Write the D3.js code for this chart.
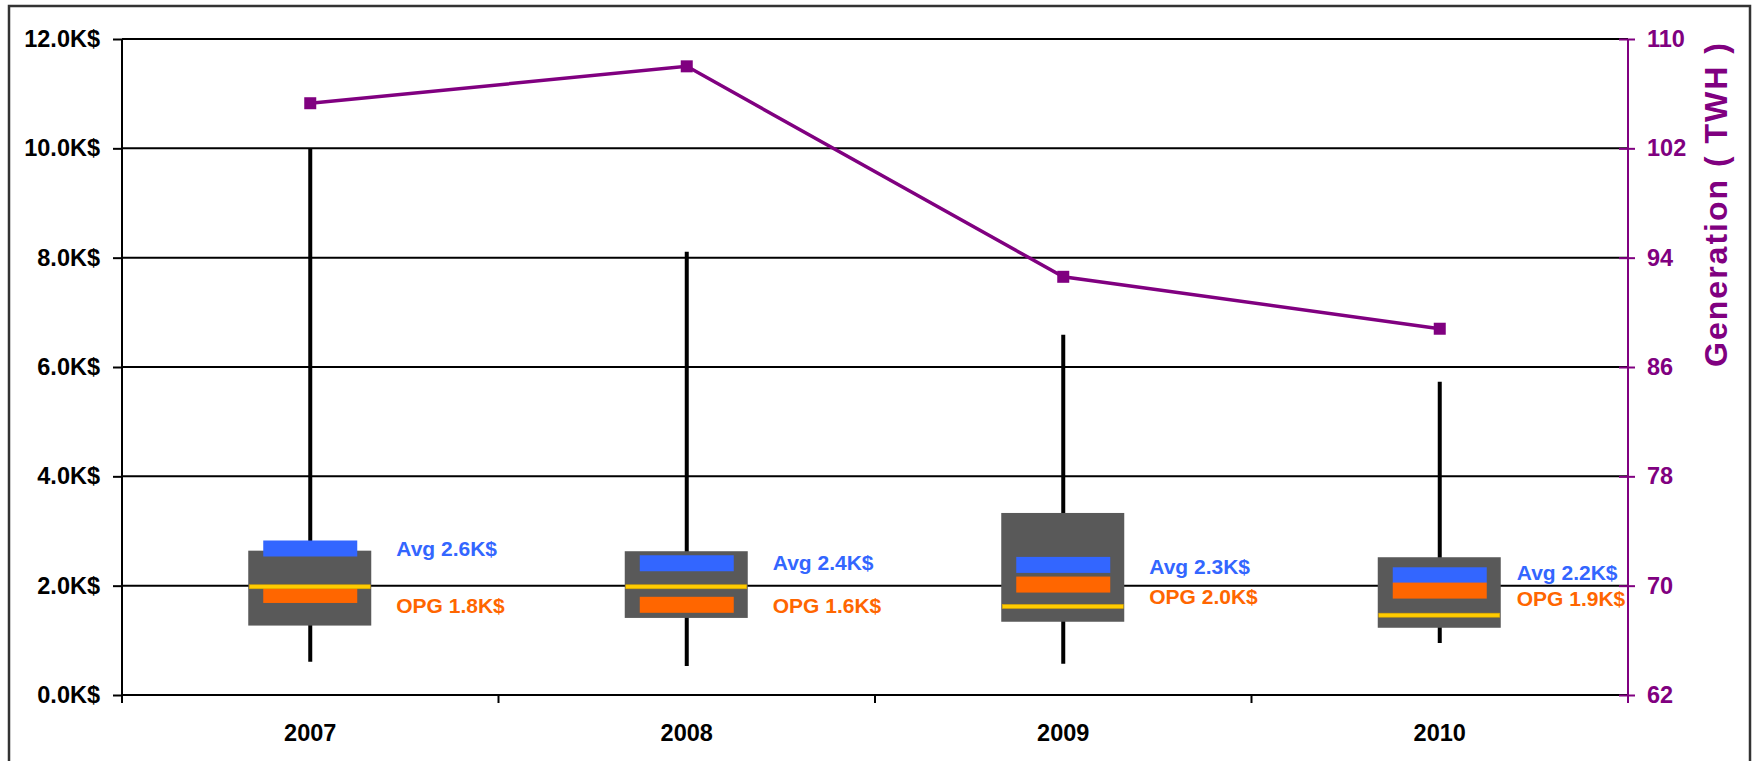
<html>
  <head>
    <meta charset="utf-8"/>
    <style>
      body {
        margin: 0;
        background: white;
      }
      text {
        font-family: "Liberation Sans", Arial, sans-serif;
        font-weight: bold;
      }
    </style>
    <script src="https://d3js.org/d3.v7.min.js"></script>
  </head>
  <body>
    <script>
    // categories and series
    var years = ["2007", "2008", "2009", "2010"];
    var whiskerHigh = [10.0, 8.11, 6.59, 5.73];
    var whiskerLow = [0.61, 0.53, 0.57, 0.95];
    var boxHigh = [2.64, 2.63, 3.33, 2.52];
    var boxLow = [1.27, 1.41, 1.34, 1.23];
    var median = [1.98, 1.98, 1.62, 1.46];
    var avgMark = [2.68, 2.41, 2.38, 2.19];
    var opgMark = [1.83, 1.65, 2.02, 1.91];
    var avgLabel = ["Avg 2.6K$", "Avg 2.4K$", "Avg 2.3K$", "Avg 2.2K$"];
    var opgLabel = ["OPG 1.8K$", "OPG 1.6K$", "OPG 2.0K$", "OPG 1.9K$"];
    var avgLabelAt = [2.68, 2.42, 2.34, 2.23];
    var opgLabelAt = [1.63, 1.63, 1.79, 1.76];
    var generation = [105.3, 108.0, 92.6, 88.8];
    var leftTicks = [0, 2, 4, 6, 8, 10, 12];
    var rightTicks = [62, 70, 78, 86, 94, 102, 110];

    var width = 1754, height = 761;
    var pLeft = 122, pRight = 1628, pTop = 39, pBottom = 695;
    var purple = "#800080";
    var font = "Liberation Sans, Arial, sans-serif";

    var svg = d3.select("body").append("svg")
                .attr("width", width).attr("height", height);

    // frame
    svg.append("rect")
       .attr("x", 9).attr("y", 6)
       .attr("width", 1741).attr("height", 770)
       .attr("fill", "none").attr("stroke", "#333").attr("stroke-width", 2.5);

    var x = d3.scaleBand().domain(years).range([pLeft, pRight]);
    var y = d3.scaleLinear().domain([0, 12]).range([pBottom, pTop]);
    var y2 = d3.scaleLinear().domain([62, 110]).range([pBottom, pTop]);

    // grid
    svg.append("g").selectAll("line")
       .data(leftTicks.slice(1))
       .enter().append("line")
       .attr("x1", pLeft).attr("x2", pRight)
       .attr("y1", d => y(d)).attr("y2", d => y(d))
       .attr("stroke", "black").attr("stroke-width", 2);

    // left axis
    var gl = svg.append("g").attr("transform", "translate(" + pLeft + ",0)")
       .call(d3.axisLeft(y).tickValues(leftTicks).tickSize(9).tickPadding(13)
             .tickFormat(d => d3.format(".1f")(d) + "K$"));
    gl.select(".domain").remove();
    gl.selectAll("line").attr("stroke", "black").attr("stroke-width", 2);
    gl.selectAll("text").attr("font-size", 23.5).attr("fill", "black")
      .attr("font-family", font);
    svg.append("line").attr("x1", pLeft).attr("x2", pLeft)
       .attr("y1", pTop).attr("y2", pBottom + 8)
       .attr("stroke", "black").attr("stroke-width", 2);

    // bottom axis
    var gb = svg.append("g").attr("transform", "translate(0," + pBottom + ")")
       .call(d3.axisBottom(x).tickSize(0).tickPadding(29));
    gb.select(".domain").remove();
    gb.selectAll("text").attr("font-size", 23.5).attr("fill", "black")
      .attr("font-family", font);
    svg.append("line").attr("x1", pLeft).attr("x2", pRight)
       .attr("y1", pBottom).attr("y2", pBottom)
       .attr("stroke", "black").attr("stroke-width", 2);
    svg.append("g").selectAll("line")
       .data(years.slice(1))
       .enter().append("line")
       .attr("x1", d => x(d)).attr("x2", d => x(d))
       .attr("y1", pBottom).attr("y2", pBottom + 8)
       .attr("stroke", "black").attr("stroke-width", 2);

    // right axis
    var gr = svg.append("g").attr("transform", "translate(" + pRight + ",0)")
       .call(d3.axisRight(y2).tickValues(rightTicks).tickSizeInner(7).tickSizeOuter(0).tickPadding(12));
    gr.select(".domain").remove();
    gr.selectAll(".tick line").attr("x1", -9).attr("x2", 7)
      .attr("stroke", purple).attr("stroke-width", 2);
    gr.selectAll("text").attr("font-size", 23.5).attr("fill", purple)
      .attr("font-family", font);
    svg.append("line").attr("x1", pRight).attr("x2", pRight)
       .attr("y1", pTop).attr("y2", pBottom + 8)
       .attr("stroke", purple).attr("stroke-width", 2);

    svg.append("text")
       .attr("transform", "translate(1727," + ((pTop + 369) / 2) + ") rotate(-90)")
       .attr("text-anchor", "middle")
       .attr("font-size", 32).attr("letter-spacing", 2)
       .attr("fill", purple)
       .text("Generation ( TWH )");

    var cx = d => x(d) + x.bandwidth() / 2;

    // whiskers
    svg.append("g").selectAll("line")
       .data(years)
       .enter().append("line")
       .attr("x1", d => cx(d)).attr("x2", d => cx(d))
       .attr("y1", (d, i) => y(whiskerHigh[i])).attr("y2", (d, i) => y(whiskerLow[i]))
       .attr("stroke", "black").attr("stroke-width", 4);

    // boxes
    svg.append("g").selectAll("rect")
       .data(years)
       .enter().append("rect")
       .attr("x", d => cx(d) - 62).attr("width", 123)
       .attr("y", (d, i) => y(boxHigh[i]))
       .attr("height", (d, i) => y(boxLow[i]) - y(boxHigh[i]))
       .attr("fill", "#595959");

    // avg / opg marks
    svg.append("g").selectAll("rect")
       .data(years)
       .enter().append("rect")
       .attr("x", d => cx(d) - 47).attr("width", 94)
       .attr("y", (d, i) => y(avgMark[i]) - 8).attr("height", 16)
       .attr("fill", "#3366FF");
    svg.append("g").selectAll("rect")
       .data(years)
       .enter().append("rect")
       .attr("x", d => cx(d) - 47).attr("width", 94)
       .attr("y", (d, i) => y(opgMark[i]) - 8).attr("height", 16)
       .attr("fill", "#FF6600");

    // median
    svg.append("g").selectAll("rect")
       .data(years)
       .enter().append("rect")
       .attr("x", d => cx(d) - 61).attr("width", 121)
       .attr("y", (d, i) => y(median[i]) - 2).attr("height", 4)
       .attr("fill", "#FFCC00").attr("stroke", "#d9a400").attr("stroke-width", 0.6);

    // labels
    svg.append("g").selectAll("text")
       .data(years)
       .enter().append("text")
       .attr("x", (d, i) => cx(d) + (i == 3 ? 77 : 86))
       .attr("y", (d, i) => y(avgLabelAt[i]))
       .attr("dy", "0.35em")
       .attr("font-size", 21).attr("fill", "#3366FF")
       .text((d, i) => avgLabel[i]);
    svg.append("g").selectAll("text")
       .data(years)
       .enter().append("text")
       .attr("x", (d, i) => cx(d) + (i == 3 ? 77 : 86))
       .attr("y", (d, i) => y(opgLabelAt[i]))
       .attr("dy", "0.35em")
       .attr("font-size", 21).attr("fill", "#FF6600")
       .text((d, i) => opgLabel[i]);

    // generation line
    var line = d3.line().x((d, i) => cx(years[i])).y(d => y2(d));
    svg.append("path")
       .datum(generation)
       .attr("d", line)
       .attr("fill", "none").attr("stroke", purple).attr("stroke-width", 3.5);
    svg.append("g").selectAll("rect")
       .data(generation)
       .enter().append("rect")
       .attr("x", (d, i) => cx(years[i]) - 6).attr("y", d => y2(d) - 6)
       .attr("width", 12).attr("height", 12)
       .attr("fill", purple);
    </script>
  </body>
</html>
